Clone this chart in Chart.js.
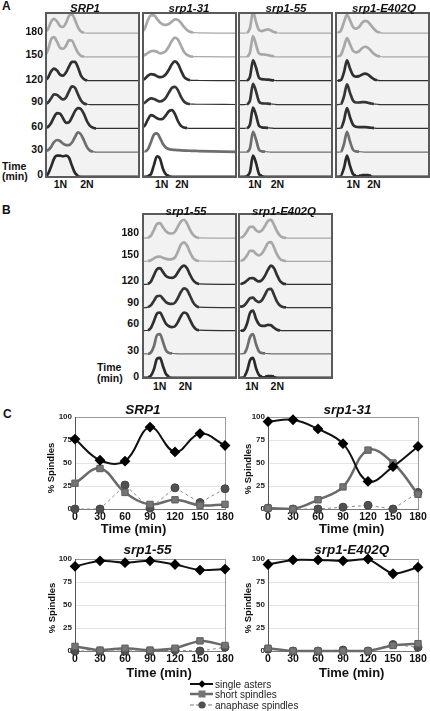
<!DOCTYPE html>
<html>
<head>
<meta charset="utf-8">
<script src="https://cdn.jsdelivr.net/npm/chart.js@4.4.1/dist/chart.umd.min.js"></script>
<style>
  body { margin: 0; background: #fff; font-family: "Liberation Sans", Arial, sans-serif; }
  #fig { position: relative; width: 430px; height: 711px; overflow: hidden; }
  .txt { position: absolute; white-space: nowrap; line-height: 14px; color: #111; font-weight: bold; }
  .box { position: absolute; box-sizing: border-box; border: 2px solid #5a5a5a; }
  .box canvas, .plot { position: absolute; }
  .legend-row { position: absolute; left: 190px; height: 10px; font-size: 10px; line-height: 10px; color: #222; white-space: nowrap; }
  .legend-row svg { vertical-align: top; margin-right: 1px; }
</style>
</head>
<body>
<div id="fig"></div>
<script>
// --- Data: time points + DNA channels (flow cytometry) ---
const timePoints = [0, 30, 60, 90, 120, 150, 180];
const dnaChannel = [0, 3, 6, 9, 12, 15, 18, 21, 24, 27, 30, 33, 36, 39, 42, 45, 48, 51, 54, 57, 94];

// histogram rows, one array per time point (0 -> 180), counts per channel
const histSRP1 = [
  [0, 2, 9, 17, 20, 20, 19.5, 20, 18, 10, 3, 0.5, 0, 0, 0, 0, 0, 0, 0, 0, 0],
  [1, 2, 5, 10, 12, 11, 8.5, 7, 7, 9.5, 15, 19.5, 17.5, 11.5, 5, 1.5, 0.5, 0, 0, 0, 0],
  [0.5, 1.5, 5, 11, 15, 14.5, 10, 5.5, 6, 11, 17, 20, 19, 14, 7, 2.5, 0.7, 0, 0, 0, 0],
  [0.5, 2, 6, 10, 9.5, 7, 5, 7, 13, 18, 16.5, 10, 4, 1, 0.3, 0, 0, 0, 0, 0, 0],
  [0.5, 3, 9, 12, 10, 6, 5, 8, 14, 18.5, 18.5, 13, 5, 1.5, 0.3, 0, 0, 0, 0, 0, 0],
  [1, 7, 17, 19.5, 15, 9, 8, 11, 16.5, 16, 10, 4, 1, 0.3, 0, 0, 0, 0, 0, 0, 0],
  [1, 4, 11, 14, 11.5, 7, 6, 10, 17, 18.5, 13, 5.5, 1.5, 0.3, 0, 0, 0, 0, 0, 0, 0]
];
const histSrp1_31 = [
  [0, 0, 0.3, 2, 11, 19.5, 17, 7, 1.5, 0.3, 0, 0, 0, 0, 0, 0, 0, 0, 0, 0, 0],
  [0, 0.5, 3, 10, 17.5, 18.5, 14, 8, 4.5, 3, 2.5, 2.2, 2, 1.8, 1.6, 1.5, 1.4, 1.3, 1.2, 1.1, 0.2],
  [0.5, 3, 9, 13, 12, 10, 9, 9.5, 13, 17, 18, 14, 7, 2.5, 0.8, 0.3, 0, 0, 0, 0, 0],
  [0.5, 2, 4.5, 6, 5.5, 4, 3, 4, 7, 12, 16.5, 17.5, 14, 7.5, 3, 1, 0.5, 0.4, 0.3, 0.3, 0],
  [0.5, 2, 5, 6.5, 6, 4.5, 3.5, 4, 6.5, 11, 16.5, 19, 16.5, 10, 4, 1.5, 0.5, 0.3, 0.3, 0.2, 0],
  [0.5, 2, 4, 5.5, 6, 5, 3.5, 4, 6, 10.5, 16, 19, 17, 11, 5, 2, 0.7, 0.3, 0.2, 0.2, 0],
  [1, 5, 13, 17.5, 17.5, 14, 10.5, 8.5, 8, 9, 11.5, 13.5, 13, 10, 6, 3, 1.2, 0.5, 0.3, 0.2, 0]
];
const histSrp1_55 = [
  [0, 0, 0, 0.3, 4, 20, 13, 2, 0.3, 0, 0, 0, 0, 0, 0, 0, 0, 0, 0, 0, 0],
  [0, 0, 0, 0.3, 4, 20, 12.5, 2.5, 0.8, 0.5, 0.3, 0, 0, 0, 0, 0, 0, 0, 0, 0, 0],
  [0, 0, 0, 0.3, 4, 20.5, 13, 2.5, 1, 0.7, 0.5, 0.3, 0, 0, 0, 0, 0, 0, 0, 0, 0],
  [0, 0, 0, 0.3, 4, 20.5, 13, 3, 1.2, 1, 0.8, 0.5, 0.3, 0, 0, 0, 0, 0, 0, 0, 0],
  [0, 0, 0, 0.3, 4, 20, 13, 3, 1.5, 1.2, 1, 0.6, 0.3, 0, 0, 0, 0, 0, 0, 0, 0],
  [0, 0, 0, 0.3, 4.5, 20.5, 12, 3.5, 2.5, 2.2, 1.8, 1, 0.4, 0, 0, 0, 0, 0, 0, 0, 0],
  [0, 0, 0, 0.3, 5, 21, 11, 3, 2, 3, 3.6, 2.5, 1, 0.3, 0, 0, 0, 0, 0, 0, 0]
];
const histE402Q = [
  [0, 0, 0.5, 8, 20, 10, 2, 0.5, 0.3, 0.7, 1, 0.8, 0.3, 0, 0, 0, 0, 0, 0, 0, 0],
  [0, 0, 0.5, 8, 20, 10.5, 2.5, 0.8, 0.5, 0.3, 0, 0, 0, 0, 0, 0, 0, 0, 0, 0, 0],
  [0, 0, 0.5, 8, 20, 11, 3.5, 1.5, 1.2, 1.3, 1.2, 1, 0.6, 0.3, 0, 0, 0, 0, 0, 0, 0],
  [0, 0, 0.5, 8, 20, 11.5, 4, 2, 2, 2.3, 2.3, 1.8, 1, 0.5, 0.3, 0, 0, 0, 0, 0, 0],
  [0, 0, 0.7, 8.5, 20, 12, 5.5, 4, 4.5, 6, 7, 6, 3.5, 1.5, 0.5, 0, 0, 0, 0, 0, 0],
  [0, 0.5, 2, 10, 18.5, 12.5, 6, 4.5, 5.5, 8.5, 10, 9, 6, 3, 1.2, 0.4, 0, 0, 0, 0, 0],
  [0, 0.5, 2.5, 11, 18, 12.5, 6, 4.3, 6, 10, 12, 11, 7.5, 4, 1.5, 0.5, 0, 0, 0, 0, 0]
];
// panel B
const histB_srp1_55 = [
  [0, 0, 0, 1.5, 8, 18.5, 19.5, 11, 3, 0.5, 0, 0, 0, 0, 0, 0, 0, 0, 0, 0, 0],
  [0, 0, 0, 1.5, 8, 19, 20, 12, 3.5, 1, 0.5, 0.3, 0, 0, 0, 0, 0, 0, 0, 0, 0],
  [0, 0.2, 0.5, 3, 10, 17.5, 18.5, 13, 7, 4.5, 3.7, 4.5, 9, 15, 18.5, 17, 11, 5, 1.5, 0.5, 0],
  [0, 0, 0.5, 2.5, 7, 11.5, 12, 9, 5.5, 4, 3.7, 5, 10, 16, 19.5, 18, 12, 5.5, 1.8, 0.5, 0],
  [0, 0, 0.5, 3, 9.5, 15.5, 16.5, 12.5, 8.5, 7, 6.7, 8, 12.5, 17, 19, 16.5, 10, 4.5, 1.5, 0.5, 0],
  [0, 0, 0.3, 1, 3, 4.5, 4.7, 3.5, 2.5, 2, 2.2, 4, 10, 17, 19.3, 16, 9, 3.5, 1, 0.3, 0],
  [0, 0, 0.5, 2.5, 8.5, 14.5, 15.3, 11, 7, 5, 4.7, 6.5, 12, 17, 18.7, 15, 8.5, 3.5, 1, 0.3, 0]
];
const histB_E402Q = [
  [0, 0, 0.5, 6, 17, 19.5, 9, 2, 0.5, 0.3, 0.8, 1, 0.5, 0, 0, 0, 0, 0, 0, 0, 0],
  [0, 0, 0.5, 6, 17, 20, 10, 2.5, 0.8, 0.4, 0.3, 0, 0, 0, 0, 0, 0, 0, 0, 0, 0],
  [0, 0, 0.7, 7, 18, 20.5, 12, 6.5, 5, 5, 6, 5.5, 3, 1, 0.3, 0, 0, 0, 0, 0, 0],
  [2, 1, 2, 5.5, 9.5, 10, 7, 5.5, 7.5, 13, 18.5, 19, 13, 6, 2, 0.6, 0.2, 0, 0, 0, 0],
  [0, 0.5, 1.5, 4, 6.3, 6.5, 4.5, 3, 4.5, 9, 15, 19, 16.5, 9.5, 3.5, 1, 0.3, 0, 0, 0, 0],
  [0, 0.5, 2, 6, 10.5, 10.5, 7.5, 6, 8, 13, 18.5, 19.5, 14, 7, 2.5, 0.7, 0.2, 0, 0, 0, 0],
  [0, 0.5, 2.5, 7, 11.5, 11.5, 8, 6.3, 8, 12.5, 17.5, 18.5, 13.5, 7, 2.5, 0.7, 0.2, 0, 0, 0, 0]
];

// panel C: % spindles per time point
const srp1Asters = [76, 53, 52, 89, 62, 82, 69];
const srp1Short = [28, 44, 18, 5, 10, 4, 5];
const srp1Anaphase = [0, 0, 26, 1, 23, 7, 22];
const s31Asters = [95, 97, 87, 71, 30, 46, 68];
const s31Short = [1, 0, 10, 24, 64, 50, 16];
const s31Anaphase = [1, 0, 0, 2, 4, 0, 18];
const s55Asters = [92, 98, 96, 98, 94, 88, 89];
const s55Short = [5, 1, 3, 1, 3, 11, 6];
const s55Anaphase = [0, 0, 0, 0, 1, 0, 4];
const e402Asters = [94, 99, 99, 98, 100, 84, 91];
const e402Short = [3, 0, 0, 0, 0, 6, 8];
const e402Anaphase = [2, 0, 0, 1, 0, 7, 4];
const seriesNames = ['single asters', 'short spindles', 'anaphase spindles'];
const yTicks = [0, 25, 50, 75, 100];

// --- helpers ---
const fig = document.getElementById('fig');
const ROW_MAX = 23.5;
const rowShade = ['#2a2a2a', '#6e6e6e', '#303030', '#363636', '#303030', '#a8a8a8', '#a8a8a8'];

function addText(text, x, y, css, anchor) {
    const d = document.createElement('div');
    d.className = 'txt';
    d.textContent = text;
    d.style.cssText += css || '';
    d.style.left = x + 'px';
    d.style.top = y + 'px';
    const tx = anchor === 'left' ? '0' : (anchor === 'right' ? '-100%' : '-50%');
    d.style.transform = 'translate(' + tx + ',-50%)';
    fig.appendChild(d);
    return d;
}

function makeCanvas(parent, cls, left, top, w, h) {
    const c = document.createElement('canvas');
    if (cls) c.className = cls;
    c.width = w; c.height = h;
    c.style.width = w + 'px'; c.style.height = h + 'px';
    c.style.left = left + 'px'; c.style.top = top + 'px';
    parent.appendChild(c);
    return c;
}

// --- Feature: histogram panels (A, B) ---
function histPanel(left, top, bg, rows, topWeight) {
    const box = document.createElement('div');
    box.className = 'box';
    box.style.left = left + 'px'; box.style.top = top + 'px';
    box.style.width = '95px'; box.style.height = '166px';
    box.style.background = bg;
    fig.appendChild(box);
    const canvas = makeCanvas(box, null, 0, 0, 91, 162);

    const scales = { x: { type: 'linear', display: false, min: 2, max: 93 } };
    const datasets = [];
    rows.forEach((vals, i) => {
        const w = i === rows.length - 1 ? topWeight : 1;
        scales['r' + i] = {
            type: 'linear', position: 'left', stack: 'rows', stackWeight: w,
            display: false, min: 0, max: ROW_MAX * w
        };
        datasets.push({
            label: timePoints[i] + ' min',
            data: vals,
            yAxisID: 'r' + i,
            borderColor: rowShade[i],
            borderWidth: 2.7,
            pointRadius: 0,
            cubicInterpolationMode: 'monotone',
            clip: false,
            segment: {
                // flat baseline stretches look thinner in the original
                borderWidth: c => (c.p0.parsed.y < 0.6 && c.p1.parsed.y < 0.6) ? 1.2 : 2.7
            }
        });
    });

    new Chart(canvas, {
        type: 'line',
        data: { labels: dnaChannel, datasets: datasets },
        options: {
            responsive: false,
            animation: false,
            events: [],
            layout: { padding: 0 },
            plugins: { legend: { display: false }, tooltip: { enabled: false } },
            scales: scales
        }
    });
}

// panel A
histPanel(45, 12, '#f2f2f2', histSRP1, 0.8);
histPanel(142, 12, '#ffffff', histSrp1_31, 0.8);
histPanel(238, 12, '#f2f2f2', histSrp1_55, 0.8);
histPanel(335, 12, '#f2f2f2', histE402Q, 0.8);
// panel B
histPanel(142, 213, '#f2f2f2', histB_srp1_55, 1);
histPanel(238, 213, '#f2f2f2', histB_E402Q, 1);

// text for A and B
const titleFont = 'font-size:11.5px;font-style:italic;';
const smallBold = 'font-size:10.5px;';
addText('A', 2, 6, 'font-size:12px;', 'left');
addText('SRP1', 85, 7.5, titleFont);
addText('srp1-31', 189, 7.5, titleFont);
addText('srp1-55', 286, 7.5, titleFont);
addText('srp1-E402Q', 384, 7.5, titleFont);
const rowLabelA = [173.7, 149, 125.5, 101.3, 79, 54, 31];
timePoints.forEach((t, i) => addText(String(t), 43, rowLabelA[i], smallBold, 'right'));
addText('Time', 2, 166, smallBold, 'left');
addText('(min)', 2, 176, smallBold, 'left');
[[60.5, 87], [161.7, 182], [255, 277.5], [353.3, 374]].forEach(p => {
    addText('1N', p[0], 183.5, smallBold);
    addText('2N', p[1], 183.5, smallBold);
});

addText('B', 2, 210, 'font-size:12px;', 'left');
addText('srp1-55', 186, 210.5, titleFont);
addText('srp1-E402Q', 284, 210.5, titleFont);
const rowLabelB = [376, 349.5, 323, 302, 279.7, 253.7, 232];
timePoints.forEach((t, i) => addText(String(t), 139, rowLabelB[i], smallBold, 'right'));
addText('Time', 97, 366.7, smallBold, 'left');
addText('(min)', 97, 377.5, smallBold, 'left');
[[159.7, 185.5], [252, 277.3]].forEach(p => {
    addText('1N', p[0], 386, smallBold);
    addText('2N', p[1], 386, smallBold);
});

// --- Feature: spindle line charts (C) ---
function spindlePlot(left, top, yW, asters, short, anaphase, tension) {
    const canvas = makeCanvas(fig, 'plot', left, top, yW + 150 + 12, 132);
    new Chart(canvas, {
        type: 'line',
        data: {
            labels: timePoints,
            datasets: [
                {
                    label: seriesNames[0], data: asters,
                    borderColor: '#111', borderWidth: 2, tension: tension,
                    pointStyle: 'rectRot', pointRadius: 4, pointBackgroundColor: '#000', pointBorderColor: '#000',
                    clip: false
                },
                {
                    label: seriesNames[1], data: short,
                    borderColor: '#6a6a6a', borderWidth: 2.5, tension: tension,
                    pointStyle: 'rect', pointRadius: 4.5, pointBackgroundColor: '#757575', pointBorderColor: '#5e5e5e', pointBorderWidth: 1,
                    clip: false
                },
                {
                    label: seriesNames[2], data: anaphase,
                    borderColor: '#8a8a8a', borderWidth: 1, borderDash: [3, 3], tension: 0,
                    pointStyle: 'circle', pointRadius: 4, pointBackgroundColor: '#505050', pointBorderColor: '#444',
                    clip: false
                }
            ]
        },
        options: {
            responsive: false,
            animation: false,
            events: [],
            layout: { padding: { top: 8, right: 12, bottom: 0, left: 0 } },
            plugins: { legend: { display: false }, tooltip: { enabled: false } },
            scales: {
                x: {
                    type: 'linear', min: 0, max: 180,
                    afterBuildTicks: s => { s.ticks = timePoints.map(v => ({ value: v })); },
                    afterFit: s => { s.height = 32; },
                    ticks: { font: { size: 10.5, weight: 'bold', family: 'Liberation Sans' }, color: '#111', padding: 2, maxRotation: 0 },
                    grid: { drawTicks: false, color: c => c.tick && c.tick.value === 180 ? '#9a9a9a' : 'rgba(0,0,0,0)' },
                    border: { color: '#777', width: 1 }
                },
                y: {
                    min: 0, max: 100,
                    afterBuildTicks: s => { s.ticks = yTicks.map(v => ({ value: v })); },
                    afterFit: s => { s.width = yW; },
                    ticks: { font: { size: 8, weight: 'bold', family: 'Liberation Sans' }, color: '#222', padding: 3 },
                    grid: { drawTicks: false, color: c => c.tick && c.tick.value === 100 ? '#9a9a9a' : '#e4e4e4' },
                    border: { color: '#555', width: 1 }
                }
            }
        }
    });
}

spindlePlot(45, 409, 30, srp1Asters, srp1Short, srp1Anaphase, 0.4);
spindlePlot(241, 409, 27, s31Asters, s31Short, s31Anaphase, 0.4);
spindlePlot(45, 551, 30, s55Asters, s55Short, s55Anaphase, 0.2);
spindlePlot(241, 551, 27, e402Asters, e402Short, e402Anaphase, 0.2);

addText('C', 3, 413.5, 'font-size:12px;', 'left');
const cTitle = 'font-size:13.5px;font-style:italic;';
addText('SRP1', 143, 410, cTitle);
addText('srp1-31', 347.5, 410, cTitle);
addText('srp1-55', 147.5, 550, cTitle);
addText('srp1-E402Q', 351.7, 550, cTitle);
const timeTitle = 'font-size:13px;';
addText('Time (min)', 133.5, 528.5, timeTitle);
addText('Time (min)', 351.7, 528.5, timeTitle);
addText('Time (min)', 159, 672.7, timeTitle);
addText('Time (min)', 351.7, 672.8, timeTitle);
[[50.5, 468], [247.5, 469], [51.5, 608], [247.5, 608]].forEach(p => {
    const d = addText('% Spindles', p[0], p[1], 'font-size:9.5px;');
    d.style.transform = 'translate(-50%,-50%) rotate(-90deg)';
});

// legend (markers drawn as small svg samples)
const legendSamples = [
    '<line x1="0" y1="4" x2="23" y2="4" stroke="#111" stroke-width="2"/><polygon points="12,0.3 15.7,4 12,7.7 8.3,4" fill="#000"/>',
    '<line x1="0" y1="4" x2="23" y2="4" stroke="#6a6a6a" stroke-width="2.5"/><rect x="8.5" y="0.5" width="7" height="7" fill="#757575"/>',
    '<line x1="0" y1="4" x2="23" y2="4" stroke="#777" stroke-width="1.2" stroke-dasharray="4,2"/><circle cx="12" cy="4" r="3.6" fill="#505050"/>'
];
[679.5, 690, 700.5].forEach((y, i) => {
    const row = document.createElement('div');
    row.className = 'legend-row';
    row.style.top = y + 'px';
    row.innerHTML = '<svg width="24" height="9">' + legendSamples[i] + '</svg>';
    row.appendChild(document.createTextNode(seriesNames[i]));
    fig.appendChild(row);
});
</script>
</body>
</html>
